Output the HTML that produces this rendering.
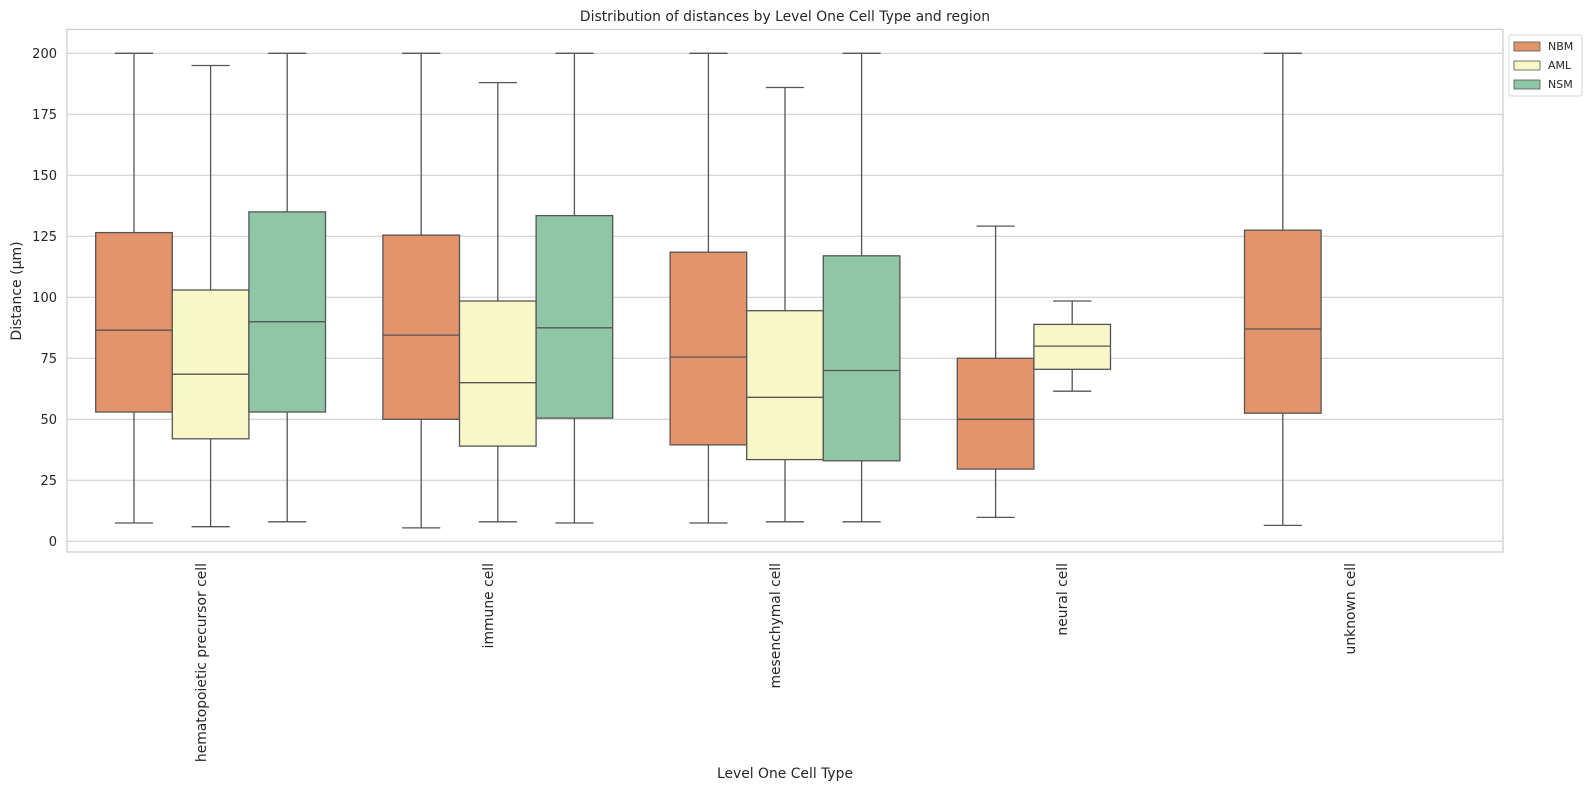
<!DOCTYPE html>
<html><head><meta charset="utf-8"><style>
html,body{margin:0;padding:0;background:#fff}
svg{display:block;font-family:"DejaVu Sans","Liberation Sans",sans-serif}
</style></head><body>
<svg width="1591" height="791" viewBox="0 0 1591 791" xmlns="http://www.w3.org/2000/svg">
<rect width="1591" height="791" fill="#fff"/>
<text x="785" y="21" font-size="13.9" text-anchor="middle" fill="#262626">Distribution of distances by Level One Cell Type and region</text>
<g stroke="#cccccc" stroke-width="1">
<line x1="67" x2="1503" y1="541.3" y2="541.3"/>
<line x1="67" x2="1503" y1="480.3" y2="480.3"/>
<line x1="67" x2="1503" y1="419.3" y2="419.3"/>
<line x1="67" x2="1503" y1="358.3" y2="358.3"/>
<line x1="67" x2="1503" y1="297.3" y2="297.3"/>
<line x1="67" x2="1503" y1="236.3" y2="236.3"/>
<line x1="67" x2="1503" y1="175.3" y2="175.3"/>
<line x1="67" x2="1503" y1="114.3" y2="114.3"/>
<line x1="67" x2="1503" y1="53.3" y2="53.3"/>
</g>
<rect x="67" y="29.4" width="1436" height="522.6" fill="none" stroke="#cccccc" stroke-width="1.2"/>
<g font-size="13" fill="#262626" text-anchor="end">
<text x="57" y="546">0</text><text x="57" y="485">25</text><text x="57" y="424">50</text>
<text x="57" y="363">75</text><text x="57" y="302">100</text><text x="57" y="241">125</text>
<text x="57" y="180">150</text><text x="57" y="119">175</text><text x="57" y="58">200</text>
</g>
<text transform="translate(21,291) rotate(-90)" font-size="14" fill="#262626" text-anchor="middle">Distance (μm)</text>

<g stroke="#555" stroke-width="1.3">
<line x1="134" x2="134" y1="523" y2="53.3"/><line x1="114.9" x2="153.1" y1="523" y2="523"/><line x1="114.9" x2="153.1" y1="53.3" y2="53.3"/>
<rect x="95.7" y="232.6" width="76.6" height="179.4" fill="#e4946a"/><line x1="95.7" x2="172.3" y1="330.2" y2="330.2"/>
<line x1="210.6" x2="210.6" y1="526.7" y2="65.5"/><line x1="191.5" x2="229.7" y1="526.7" y2="526.7"/><line x1="191.5" x2="229.7" y1="65.5" y2="65.5"/>
<rect x="172.3" y="290" width="76.6" height="148.8" fill="#f7f7c7"/><line x1="172.3" x2="248.9" y1="374.2" y2="374.2"/>
<line x1="287.2" x2="287.2" y1="521.8" y2="53.3"/><line x1="268.1" x2="306.3" y1="521.8" y2="521.8"/><line x1="268.1" x2="306.3" y1="53.3" y2="53.3"/>
<rect x="248.9" y="211.9" width="76.6" height="200.1" fill="#8fc6a5"/><line x1="248.9" x2="325.5" y1="321.7" y2="321.7"/>

<line x1="421.2" x2="421.2" y1="527.9" y2="53.3"/><line x1="402.1" x2="440.3" y1="527.9" y2="527.9"/><line x1="402.1" x2="440.3" y1="53.3" y2="53.3"/>
<rect x="382.9" y="235.1" width="76.6" height="184.2" fill="#e4946a"/><line x1="382.9" x2="459.5" y1="335.1" y2="335.1"/>
<line x1="497.8" x2="497.8" y1="521.8" y2="82.6"/><line x1="478.7" x2="516.9" y1="521.8" y2="521.8"/><line x1="478.7" x2="516.9" y1="82.6" y2="82.6"/>
<rect x="459.5" y="301" width="76.6" height="145.1" fill="#f7f7c7"/><line x1="459.5" x2="536.1" y1="382.7" y2="382.7"/>
<line x1="574.4" x2="574.4" y1="523" y2="53.3"/><line x1="555.3" x2="593.5" y1="523" y2="523"/><line x1="555.3" x2="593.5" y1="53.3" y2="53.3"/>
<rect x="536.1" y="215.6" width="76.6" height="202.5" fill="#8fc6a5"/><line x1="536.1" x2="612.7" y1="327.8" y2="327.8"/>

<line x1="708.4" x2="708.4" y1="523" y2="53.3"/><line x1="689.3" x2="727.5" y1="523" y2="523"/><line x1="689.3" x2="727.5" y1="53.3" y2="53.3"/>
<rect x="670.1" y="252.2" width="76.6" height="192.7" fill="#e4946a"/><line x1="670.1" x2="746.7" y1="357.1" y2="357.1"/>
<line x1="785" x2="785" y1="521.8" y2="87.5"/><line x1="765.9" x2="804.1" y1="521.8" y2="521.8"/><line x1="765.9" x2="804.1" y1="87.5" y2="87.5"/>
<rect x="746.7" y="310.7" width="76.6" height="148.9" fill="#f7f7c7"/><line x1="746.7" x2="823.3" y1="397.3" y2="397.3"/>
<line x1="861.6" x2="861.6" y1="521.8" y2="53.3"/><line x1="842.5" x2="880.7" y1="521.8" y2="521.8"/><line x1="842.5" x2="880.7" y1="53.3" y2="53.3"/>
<rect x="823.3" y="255.8" width="76.6" height="205" fill="#8fc6a5"/><line x1="823.3" x2="899.9" y1="370.5" y2="370.5"/>

<line x1="995.6" x2="995.6" y1="517.4" y2="226.1"/><line x1="976.5" x2="1014.7" y1="517.4" y2="517.4"/><line x1="976.5" x2="1014.7" y1="226.1" y2="226.1"/>
<rect x="957.3" y="358.3" width="76.6" height="110.8" fill="#e4946a"/><line x1="957.3" x2="1033.9" y1="419.3" y2="419.3"/>
<line x1="1072.2" x2="1072.2" y1="391.2" y2="301"/><line x1="1053.1" x2="1091.3" y1="391.2" y2="391.2"/><line x1="1053.1" x2="1091.3" y1="301" y2="301"/>
<rect x="1033.9" y="324.4" width="76.6" height="44.9" fill="#f7f7c7"/><line x1="1033.9" x2="1110.5" y1="346.1" y2="346.1"/>

<line x1="1282.8" x2="1282.8" y1="525.4" y2="53.3"/><line x1="1263.7" x2="1301.9" y1="525.4" y2="525.4"/><line x1="1263.7" x2="1301.9" y1="53.3" y2="53.3"/>
<rect x="1244.5" y="230.2" width="76.6" height="183" fill="#e4946a"/><line x1="1244.5" x2="1321.1" y1="329" y2="329"/>
</g>

<g font-size="13.9" fill="#262626" text-anchor="end">
<text transform="translate(206,563) rotate(-90)">hematopoietic precursor cell</text>
<text transform="translate(493,563) rotate(-90)">immune cell</text>
<text transform="translate(780,563) rotate(-90)">mesenchymal cell</text>
<text transform="translate(1067,563) rotate(-90)">neural cell</text>
<text transform="translate(1355,563) rotate(-90)">unknown cell</text>
</g>
<text x="785" y="778" font-size="13.9" text-anchor="middle" fill="#262626">Level One Cell Type</text>
<rect x="1509" y="35" width="73" height="61" rx="2" fill="#fff" stroke="#d6d6d6"/>
<g stroke="#555" stroke-width="0.8">
<rect x="1514" y="42" width="26" height="9" fill="#e4946a"/>
<rect x="1514" y="61" width="26" height="9" fill="#f7f7c7"/>
<rect x="1514" y="80" width="26" height="9" fill="#8fc6a5"/>
</g>
<g font-size="11" fill="#262626">
<text x="1548" y="50">NBM</text><text x="1548" y="69">AML</text><text x="1548" y="88">NSM</text>
</g>
</svg>
</body></html>
